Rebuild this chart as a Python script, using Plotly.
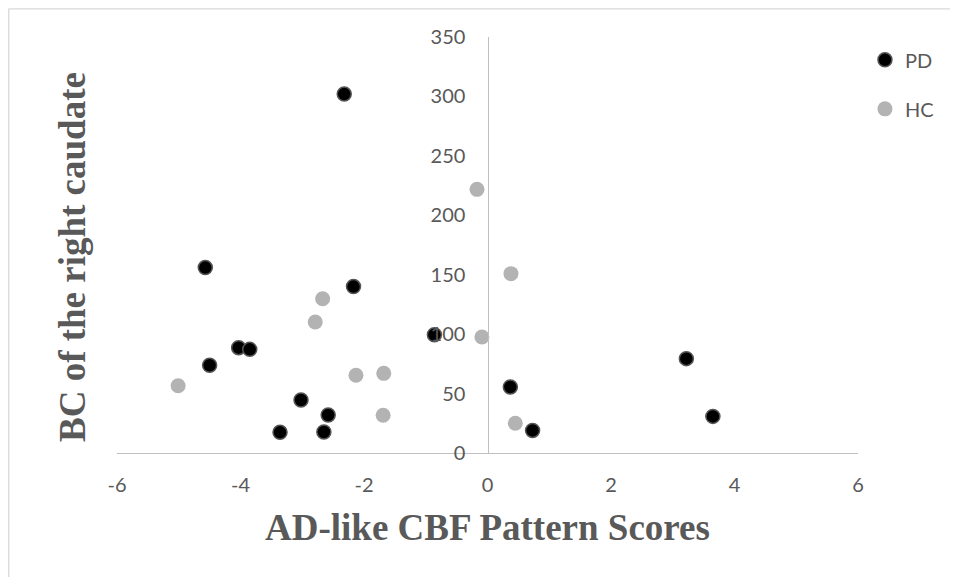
import plotly.graph_objects as go

# PD group (black)
pd_x = [-2.32, -4.57, -2.17, -4.03, -3.85, -4.50, -3.02, -2.58, -3.36, -2.65, -0.86, 0.37, 0.73, 3.22, 3.65]
pd_y = [302, 156, 140, 88.6, 87.2, 73.8, 44.6, 32, 17.4, 17.7, 99.5, 55.5, 19, 79.4, 30.8]

# HC group (gray)
hc_x = [-0.17, -2.67, -2.79, -0.09, -5.01, -2.13, -1.68, -1.69, 0.38, 0.45]
hc_y = [221.8, 129.8, 110.2, 97.6, 56.6, 65.4, 67, 31.7, 150.9, 25]

x_ticks = [-6, -4, -2, 0, 2, 4, 6]
x_tick_labels = ["-6", "-4", "-2", "0", "2", "4", "6"]
y_ticks = [0, 50, 100, 150, 200, 250, 300, 350]

x_title = "AD-like CBF Pattern Scores"
y_title = "BC of the right caudate"

tick_font = dict(family="Lato", size=20, color="#595959")
title_font = dict(family="Liberation Serif", size=37, color="#595959")

fig = go.Figure()
fig.add_trace(go.Scatter(
    x=pd_x, y=pd_y, mode="markers", name="PD", legendgroup="pd",
    marker=dict(color="#000000", size=14, line=dict(color="#555555", width=1.5)),
    cliponaxis=False,
))
fig.add_trace(go.Scatter(
    x=hc_x, y=hc_y, mode="markers", name="HC", legendgroup="hc",
    marker=dict(color="#b3b3b3", size=15, line=dict(width=0)),
    cliponaxis=False,
))

fig.update_layout(
    width=950, height=569,
    margin=dict(l=109, r=100, t=29, b=124),
    paper_bgcolor="white", plot_bgcolor="white",
    showlegend=True,
    legend=dict(
        x=1.0094, xanchor="left", y=0.992, yanchor="top",
        font=tick_font, tracegroupgap=20, bgcolor="rgba(0,0,0,0)",
    ),
    xaxis=dict(
        range=[-6, 6], tickvals=x_ticks, ticktext=x_tick_labels,
        showgrid=False, zeroline=False,
        showline=True, linecolor="#c0c0c0", linewidth=1.3,
        tickfont=tick_font, ticks="", ticklabelstandoff=14,
    ),
    yaxis=dict(
        range=[0, 350], tickvals=y_ticks, showgrid=False, zeroline=False,
        showline=True, linecolor="#c0c0c0", linewidth=1.3,
        anchor="free", position=0.5,
        tickfont=tick_font, ticks="", ticklabelstandoff=18,
    ),
    annotations=[
        dict(text=f"<b>{x_title}</b>", xref="paper", yref="paper",
             x=0.5, y=-0.178, xanchor="center", yanchor="middle",
             showarrow=False, font=title_font),
        dict(text=f"<b>{y_title}</b>", xref="paper", yref="paper",
             x=-0.06, y=0.47, xanchor="center", yanchor="middle",
             textangle=-90, showarrow=False, font=title_font),
    ],
    shapes=[
        dict(type="line", xref="paper", yref="paper", x0=-0.1461, x1=1.2, y0=1.0677, y1=1.0677,
             line=dict(color="#d9d9d9", width=1.3)),
        dict(type="line", xref="paper", yref="paper", x0=-0.1461, x1=-0.1461, y0=1.0677, y1=-0.35,
             line=dict(color="#d9d9d9", width=1.3)),
    ],
)

fig.write_html("out.html")
